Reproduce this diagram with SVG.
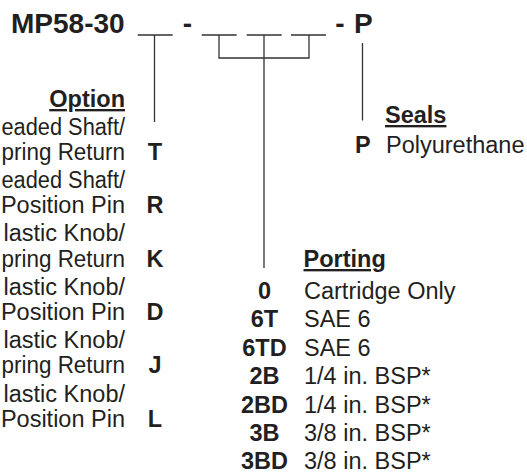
<svg xmlns="http://www.w3.org/2000/svg" width="527" height="474" viewBox="0 0 527 474">
<style>
text{font-family:"Liberation Sans",Arial,Helvetica,sans-serif;fill:#231f20;font-size:23.5px}
.b{font-weight:bold}
.t{font-size:28px;font-weight:bold}
.h{font-weight:bold;text-decoration:underline}
.e{text-anchor:end}
.m{text-anchor:middle}
.ln{stroke:#333;stroke-width:1.3;fill:none}
</style>
<rect width="527" height="474" fill="#fff"/>
<g id="title">
<text class="t" x="11" y="33">MP58-30</text>
<text class="t m" x="187.5" y="33">-</text>
<text class="t m" x="340" y="33">-</text>
<text class="t" x="354" y="33">P</text>
<path class="ln" d="M137.7,35H172.7M201.7,35H236.7M246.7,35H281.7M291,35H326"/>
</g>
<g id="connectors">
<path class="ln" d="M154.5,35V122"/>
<path class="ln" d="M219,35V58H309V35M264,35V268"/>
<path class="ln" d="M362.5,43V120.5"/>
</g>
<g id="option">
<text class="h e" x="125" y="107">Option</text>
<text x="1.5" y="134.5" textLength="123.5" lengthAdjust="spacingAndGlyphs">eaded Shaft/</text>
<text x="1.5" y="160" textLength="123.5" lengthAdjust="spacingAndGlyphs">pring Return</text>
<text class="b m" x="155" y="160">T</text>
<text x="1.5" y="188" textLength="123.5" lengthAdjust="spacingAndGlyphs">eaded Shaft/</text>
<text class="e" x="125" y="213.3">Position Pin</text>
<text class="b m" x="155" y="213.3">R</text>
<text class="e" x="125" y="241.3">lastic Knob/</text>
<text x="1.5" y="266.7" textLength="123.5" lengthAdjust="spacingAndGlyphs">pring Return</text>
<text class="b m" x="155" y="266.7">K</text>
<text class="e" x="125" y="294.5">lastic Knob/</text>
<text class="e" x="125" y="320">Position Pin</text>
<text class="b m" x="155" y="320">D</text>
<text class="e" x="125" y="348">lastic Knob/</text>
<text x="1.5" y="373.3" textLength="123.5" lengthAdjust="spacingAndGlyphs">pring Return</text>
<text class="b m" x="155" y="373.3">J</text>
<text class="e" x="125" y="401.5">lastic Knob/</text>
<text class="e" x="125" y="426.7">Position Pin</text>
<text class="b m" x="155" y="426.7">L</text>
</g>
<g id="seals">
<text class="h" x="385" y="123">Seals</text>
<text class="b" x="355" y="153">P</text>
<text x="386" y="153">Polyurethane</text>
</g>
<g id="porting">
<text class="h" x="303.5" y="267">Porting</text>
<text class="b m" x="264.5" y="298.5">0</text>
<text x="304" y="298.5">Cartridge Only</text>
<text class="b m" x="264.5" y="327">6T</text>
<text x="304" y="327">SAE 6</text>
<text class="b m" x="264.5" y="355.5">6TD</text>
<text x="304" y="355.5">SAE 6</text>
<text class="b m" x="264.5" y="384">2B</text>
<text x="304" y="384">1/4 in. BSP*</text>
<text class="b m" x="264.5" y="412.5">2BD</text>
<text x="304" y="412.5">1/4 in. BSP*</text>
<text class="b m" x="264.5" y="441">3B</text>
<text x="304" y="441">3/8 in. BSP*</text>
<text class="b m" x="264.5" y="469">3BD</text>
<text x="304" y="469">3/8 in. BSP*</text>
</g>
</svg>
